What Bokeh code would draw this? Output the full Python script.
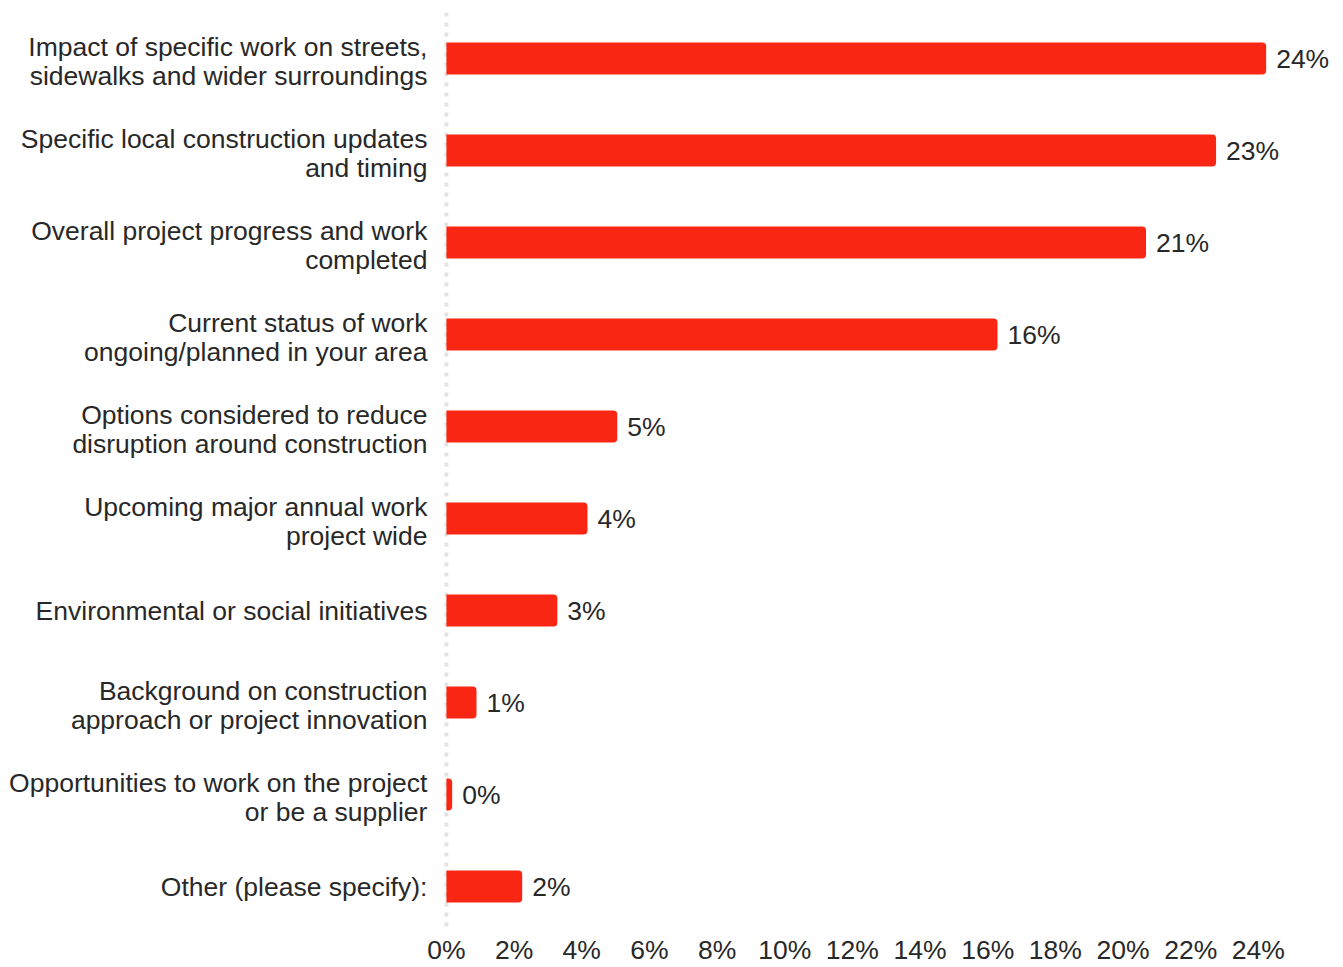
from bokeh.plotting import figure
from bokeh.models import ColumnDataSource, FactorRange, Range1d, FixedTicker, PrintfTickFormatter, Span
from bokeh.core.properties import value
from bokeh.embed import file_html
from bokeh.resources import INLINE

categories = [
    "Impact of specific work on streets,\nsidewalks and wider surroundings",
    "Specific local construction updates\nand timing",
    "Overall project progress and work\ncompleted",
    "Current status of work\nongoing/planned in your area",
    "Options considered to reduce\ndisruption around construction",
    "Upcoming major annual work\nproject wide",
    "Environmental or social initiatives",
    "Background on construction\napproach or project innovation",
    "Opportunities to work on the project\nor be a supplier",
    "Other (please specify):",
]
values = [24.23, 22.75, 20.68, 16.29, 5.05, 4.17, 3.28, 0.89, 0.17, 2.24]
value_labels = ["24%", "23%", "21%", "16%", "5%", "4%", "3%", "1%", "0%", "2%"]
x_ticks = [0, 2, 4, 6, 8, 10, 12, 14, 16, 18, 20, 22, 24]

FONT = "Liberation Sans"
TEXT_COLOR = "#282828"
BAR_COLOR = "#f92613"
FS = "26.5px"

# two-line labels sit a little lower than the bar centre
label_shift = [3 if "\n" in c else 0 for c in categories]

source = ColumnDataSource(dict(cat=categories, val=values, lab=value_labels,
                               shift=label_shift))

p = figure(
    y_range=FactorRange(factors=list(reversed(categories)), range_padding=0),
    x_range=Range1d(-13.18, 26.28),
    frame_width=1335, frame_height=920,
    min_border_left=0, min_border_right=0, min_border_top=12, min_border_bottom=0,
    output_backend="svg", toolbar_location=None,
)

p.add_layout(Span(location=0, dimension="height", line_color="#e3e3e3",
                  line_width=4, line_dash="4 6", level="underlay"))

p.hbar(y="cat", right="val", left=0, height=0.348, source=source,
       fill_color=BAR_COLOR, line_color=None, border_radius=(0, 4, 4, 0))

# category labels, right-aligned left of the zero line
p.text(x=0, y="cat", text="cat", source=source, x_offset=-19, y_offset="shift",
       text_align="right", text_baseline="middle", text_line_height=0.97,
       text_font=value(FONT), text_font_size=FS, text_color=TEXT_COLOR)

# value labels
p.text(x="val", y="cat", text="lab", source=source, x_offset=10,
       text_align="left", text_baseline="middle",
       text_font=value(FONT), text_font_size=FS, text_color=TEXT_COLOR)

p.yaxis.visible = False
p.xaxis.ticker = FixedTicker(ticks=x_ticks)
p.xaxis.formatter = PrintfTickFormatter(format="%d%%")
p.xaxis.axis_line_color = None
p.xaxis.major_tick_line_color = None
p.xaxis.minor_tick_line_color = None
p.xaxis.major_label_text_font = FONT
p.xaxis.major_label_text_font_size = FS
p.xaxis.major_label_text_color = TEXT_COLOR
p.xaxis.major_label_standoff = -4
p.grid.visible = False
p.outline_line_color = None

open("out.html", "w").write(file_html(p, INLINE))
